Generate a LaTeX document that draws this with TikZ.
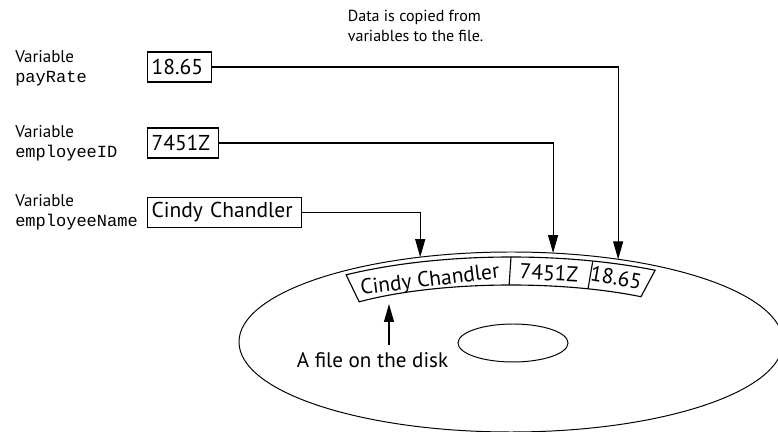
\documentclass[tikz,border=0pt]{standalone}
\usepackage{fontspec}
\setmainfont{PT Sans}
\setmonofont{Liberation Mono}
\usepackage{tikz}
\usetikzlibrary{arrows.meta, calc}
\tikzset{
  var_label/.style={anchor=west, align=left, inner sep=0pt, font=\fontsize{12.1}{14.2}\selectfont},
  value_box/.style={rectangle, draw=black, line width=0.8pt, anchor=west, align=left, minimum height=0.75cm, inner xsep=0.1cm, inner ysep=0pt, font=\fontsize{15.3}{18}\selectfont},
  note_text/.style={align=left, inner sep=0pt, font=\fontsize{11.4}{14.2}\selectfont},
  slot_text/.style={inner sep=0pt, font=\fontsize{15.3}{18}\selectfont},
  file_text/.style={inner xsep=0pt, inner ysep=0.2cm, font=\fontsize{15}{18}\selectfont},
  disk_line/.style={line width=0.7pt},
  band_line/.style={line width=0.8pt},
  arrow/.style={-{Triangle[length=0.45cm, width=0.25cm]}, line width=0.8pt}
}

\begin{document}
\begin{tikzpicture}
    \useasboundingbox (0,0) rectangle (19.45,10.8);

    % Variables on the left
    \node[var_label](rate_label) at (0.375,9.1) {Variable\\\texttt{payRate}};
    \node[var_label](id_label) at (0.375,7.225) {Variable\\\texttt{employeeID}};
    \node[var_label](name_label) at (0.375,5.4875) {Variable\\\texttt{employeeName}};

    \node[value_box, text width=1.4cm](rate_box) at (3.675,9.125) {18.65};
    \node[value_box, text width=1.575cm](id_box) at (3.675,7.225) {7451Z};
    \node[value_box, text width=3.65cm](name_box) at (3.675,5.4875) {Cindy Chandler};

    \node[note_text](copy_note) at (10.39,10.15) {Data is copied from\\variables to the file.};

    % The disk and the file on it
    \begin{scope}[shift={(12.775,2.25)}]
      \draw[disk_line] (0,0) ellipse [x radius=6.8, y radius=2.25];
      \draw[disk_line] (0.05,-0.025) ellipse [x radius=1.375, y radius=0.475];

      \draw[band_line, fill=white] (127.8:6.725 and 2.125)
        arc[start angle=127.8, end angle=57.6, x radius=6.725, y radius=2.125]
        -- (52.6:5.35 and 1.425)
        arc[start angle=52.6, end angle=135.2, x radius=5.35, y radius=1.425] -- cycle;
      \draw[band_line] (90:6.725 and 2.125) -- (90.5:5.35 and 1.425);
      \draw[band_line] (72.3:6.725 and 2.125) -- (68.9:5.35 and 1.425);

      \coordinate (name_slot) at (109.5:6.8 and 2.25);
      \coordinate (id_slot) at (81.1:6.8 and 2.25);
      \coordinate (rate_slot) at (66.8:6.8 and 2.25);
    \end{scope}

    \node[slot_text, rotate=7](name_cell) at (10.75,3.775) {Cindy Chandler};
    \node[slot_text, rotate=-3](id_cell) at (13.725,3.975) {7451Z};
    \node[slot_text, rotate=-10](rate_cell) at (15.4,3.8625) {18.65};

    \coordinate (file_tip) at (9.725,3.2);
    \node[file_text](file_label) at (9.3125,1.7875) {A file on the disk};

    % Copy arrows
    \draw[arrow] (rate_box.east) -| (rate_slot);
    \draw[arrow] (id_box.east) -| (id_slot);
    \draw[arrow] (name_box.east) -| (name_slot);
    \draw[arrow] (file_label.north -| file_tip) -- (file_tip);
\end{tikzpicture}
\end{document}
